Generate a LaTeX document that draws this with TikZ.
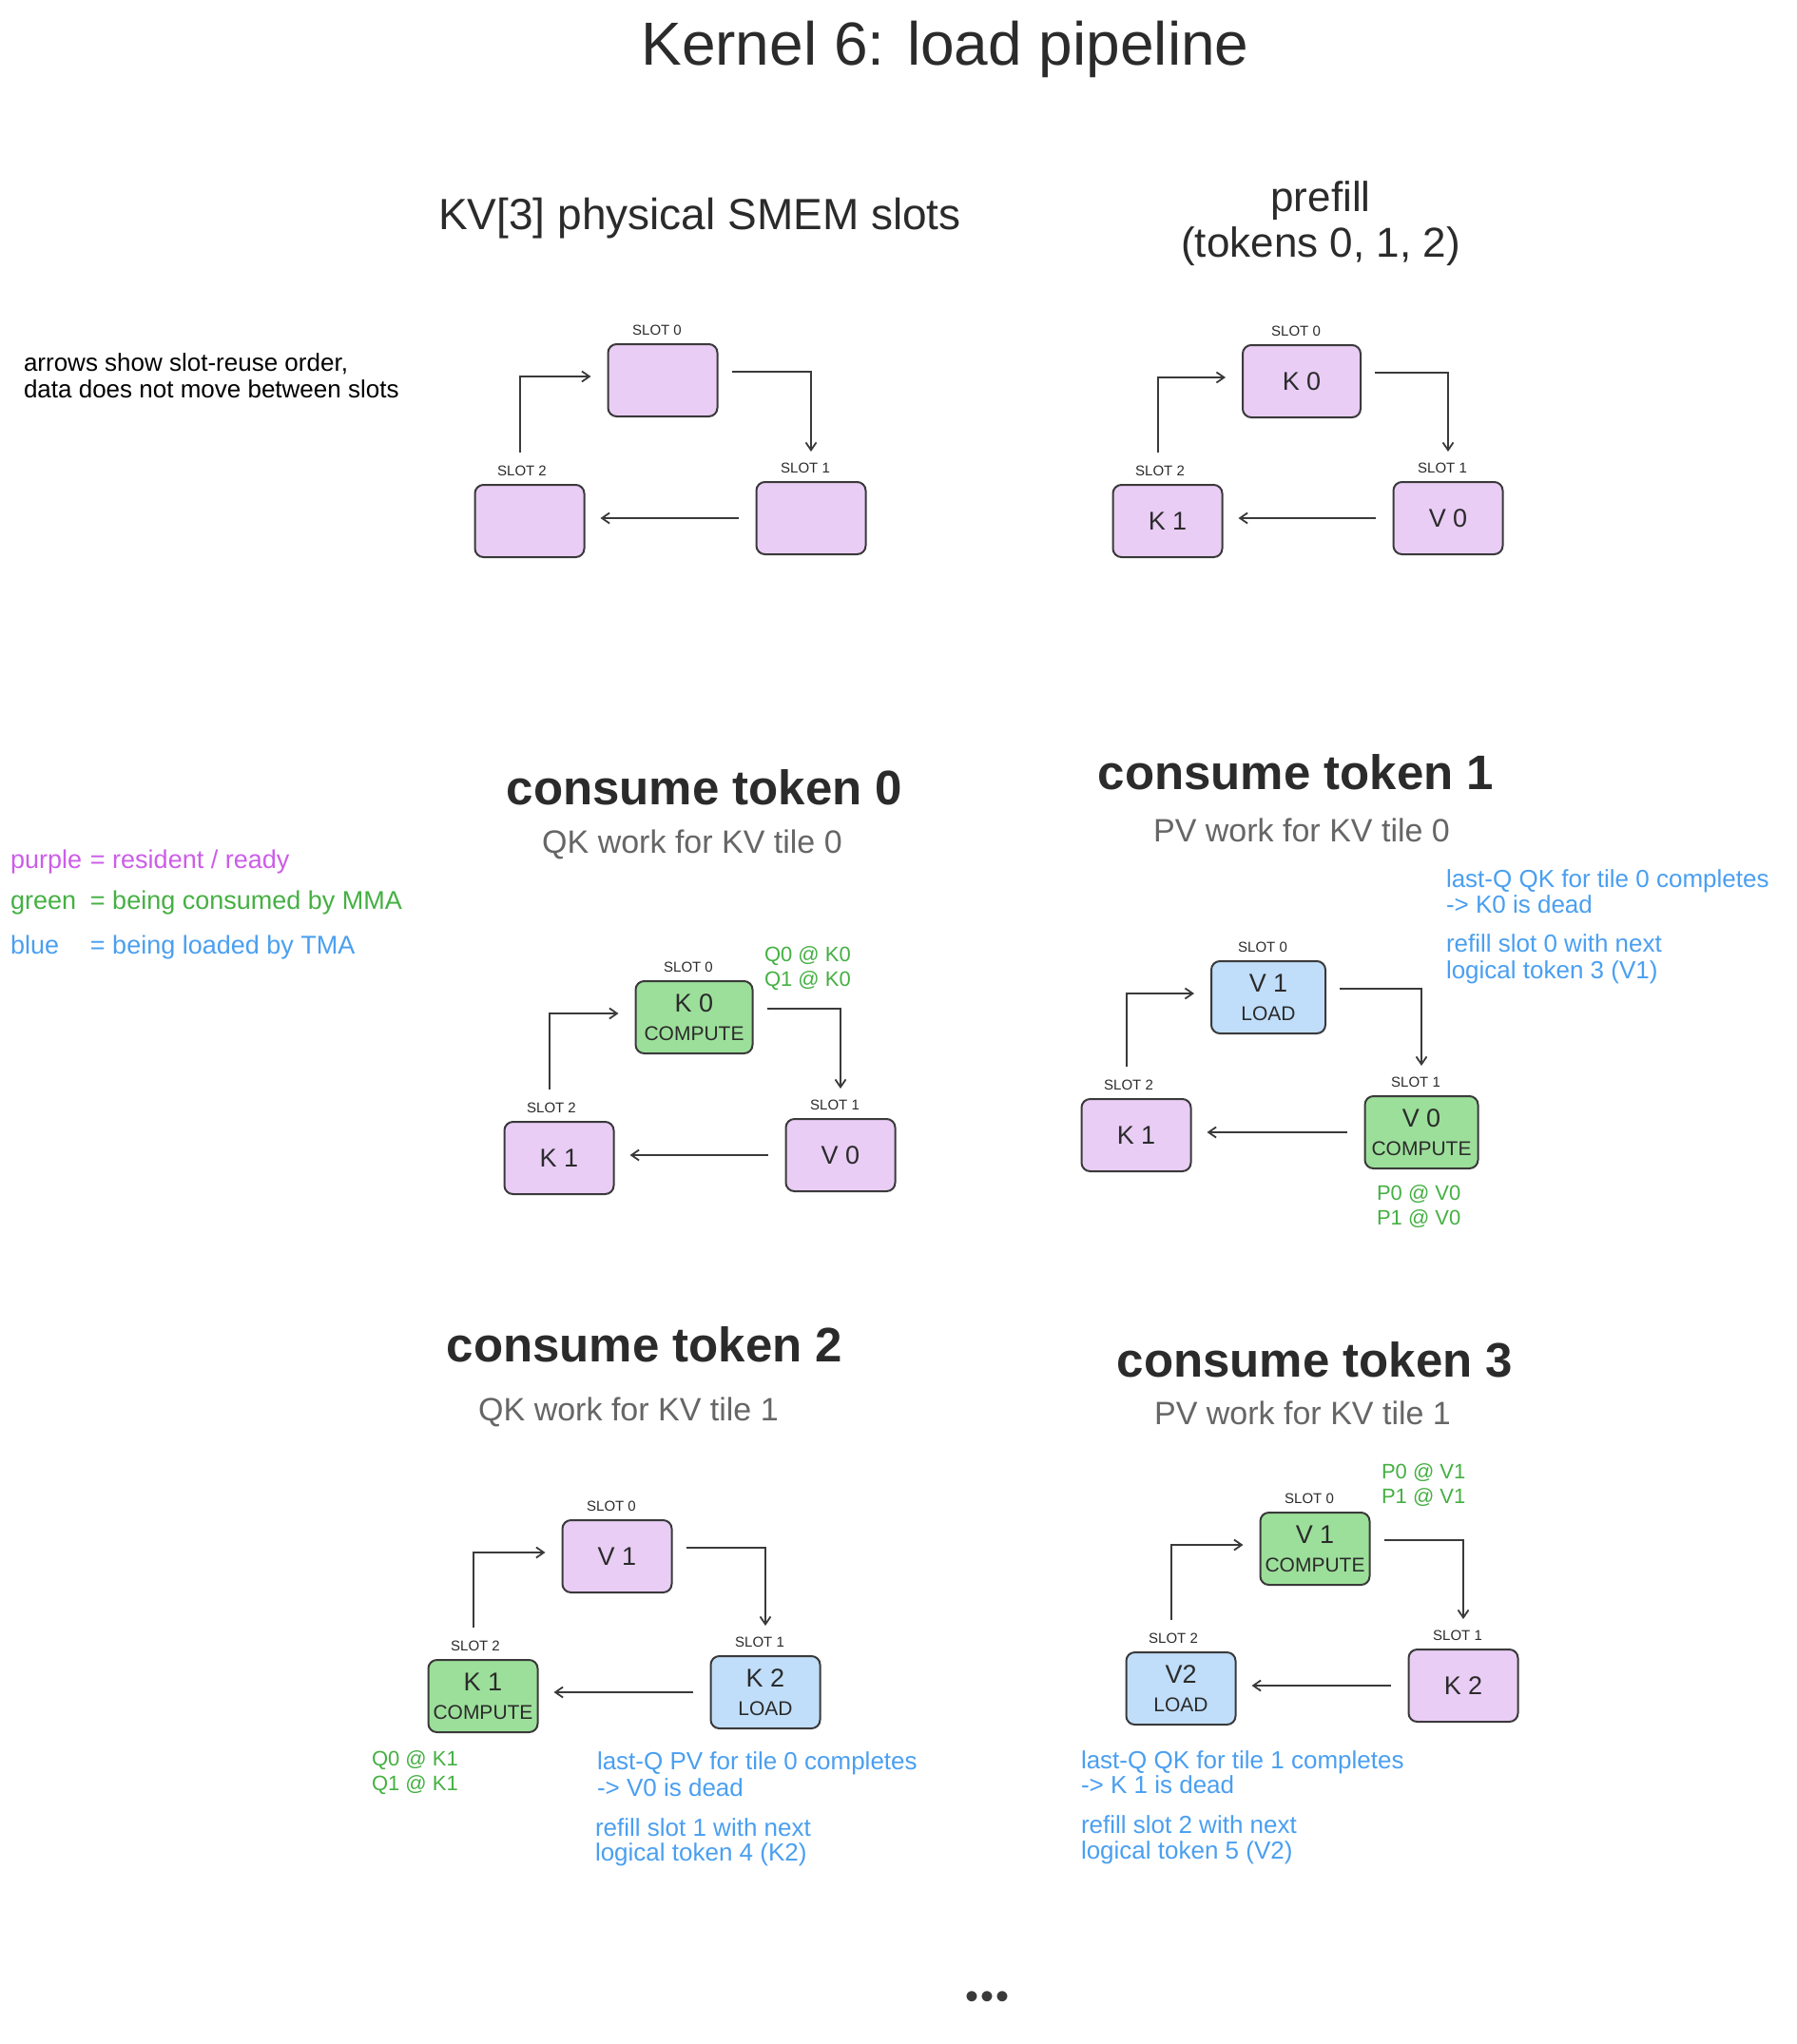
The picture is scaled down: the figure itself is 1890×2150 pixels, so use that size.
\documentclass[tikz,border=0pt]{standalone}
\usepackage{fontspec}
\setmainfont{Liberation Sans}
\usetikzlibrary{arrows.meta,calc}
\definecolor{ink}{HTML}{2B2B2B}
\definecolor{strokec}{HTML}{3A3A3A}
\definecolor{subgray}{HTML}{666666}
\definecolor{pfill}{HTML}{E9CDF5}
\definecolor{gfill}{HTML}{9CDF9A}
\definecolor{bfill}{HTML}{C0DEFA}
\definecolor{ptext}{HTML}{CC5DE8}
\definecolor{gtext}{HTML}{45B043}
\definecolor{btext}{HTML}{4A9FF0}
\newcommand\setfs[2]{\fontsize{#1}{#2}\selectfont}
\newcommand\bxt[1]{{\setfs{27}{30}#1}}
\tikzset{
  every node/.style={inner sep=0pt, outer sep=0pt},
  slotbox/.style={draw=strokec, line width=2pt, rounded corners=9pt,
    minimum width=115pt, minimum height=76pt, align=center, text=ink,
    font=\setfs{21}{30}},
  purplebox/.style={slotbox, fill=pfill},
  greenbox/.style={slotbox, fill=gfill},
  bluebox/.style={slotbox, fill=bfill},
  slotlbl/.style={font=\setfs{15}{15}, text=ink},
  arr/.style={draw=strokec, line width=1.8pt, -{Straight Barb[length=8pt,width=11pt]}},
  heading/.style={font=\bfseries\setfs{51}{51}, text=ink, anchor=base},
  subhead/.style={font=\setfs{34}{34}, text=subgray, anchor=base},
  note/.style={font=\setfs{26}{26}, anchor=base west},
  gnote/.style={font=\setfs{22}{22}, text=gtext, anchor=base west},
  legend/.style={font=\setfs{27}{27}, anchor=base west},
}
\newcommand\slotset[1]{%
  \node[slotlbl] (#1al) at ($(#1a.north)+(-6,-15)$) {SLOT 0};
  \node[slotlbl] (#1bl) at ($(#1b.north)+(-6,-15)$) {SLOT 1};
  \node[slotlbl] (#1cl) at ($(#1c.north)+(-8,-15)$) {SLOT 2};
  \draw[arr] ($(#1a.east)+(15,-9)$) -| ($(#1b.north)+(0,-32)$);
  \draw[arr] ($(#1b.west)+(-19,0)$) -- ($(#1c.east |- #1b.west)+(17,0)$);
  \draw[arr] ($(#1c.north)+(-10,-34)$) |- ($(#1a.west)+(-18,-4)$);
}
\begin{document}
\begin{tikzpicture}[x=1pt, y=-1pt]
\fill[white] (0,0) rectangle (1890,2150);

% title
\node[anchor=base, font=\setfs{64}{64}, text=ink] (title) at (994,68) {Kernel 6: load pipeline};

% section headers top
\node[anchor=base, font=\setfs{46}{46}, text=ink] (physt) at (736,241) {KV[3] physical SMEM slots};
\node[anchor=base, font=\setfs{44}{44}, text=ink] (pref1) at (1389,222) {prefill};
\node[anchor=base, font=\setfs{44}{44}, text=ink] (pref2) at (1389,270) {(tokens 0, 1, 2)};

\node[note, text=black] (an1) at (25,390) {arrows show slot-reuse order,};
\node[note, text=black] (an2) at (25,418) {data does not move between slots};

% diagram A: physical slots
\node[purplebox] (pa) at (697,400) {};
\node[purplebox] (pb) at (853,545) {};
\node[purplebox] (pc) at (557,548) {};
\slotset{p}

% diagram B: prefill
\node[purplebox, minimum width=124pt] (fa) at (1369,401) {\bxt{K 0}};
\node[purplebox] (fb) at (1523,545) {\bxt{V 0}};
\node[purplebox] (fc) at (1228,548) {\bxt{K 1}};
\slotset{f}

% legend
\node[legend, text=ptext] (lp) at (11,913) {\makebox[84pt][l]{purple}= resident / ready};
\node[legend, text=gtext] (lg) at (11,956) {\makebox[84pt][l]{green}= being consumed by MMA};
\node[legend, text=btext] (lb) at (11,1003) {\makebox[84pt][l]{blue}= being loaded by TMA};

% diagram C: consume token 0
\node[heading] (ch) at (741,846) {consume token 0};
\node[subhead] (cs) at (728,897) {QK work for KV tile 0};
\node[greenbox, minimum width=123pt] (ca) at (730,1070) {\bxt{K 0}\\COMPUTE};
\node[purplebox] (cb) at (884,1215) {\bxt{V 0}};
\node[purplebox] (cc) at (588,1218) {\bxt{K 1}};
\slotset{c}
\node[gnote] (cq0) at (804,1011) {Q0 @ K0};
\node[gnote] (cq1) at (804,1037) {Q1 @ K0};

% diagram D: consume token 1
\node[heading] (dh) at (1363,830) {consume token 1};
\node[subhead] (ds) at (1369,885) {PV work for KV tile 0};
\node[bluebox, minimum width=120pt] (da) at (1334,1049) {\bxt{V 1}\\LOAD};
\node[greenbox, minimum width=119pt] (db) at (1495,1191) {\bxt{V 0}\\COMPUTE};
\node[purplebox] (dc) at (1195,1194) {\bxt{K 1}};
\slotset{d}
\node[note, text=btext] (dn1) at (1521,933) {last-Q QK for tile 0 completes};
\node[note, text=btext] (dn2) at (1521,960) {-> K0 is dead};
\node[note, text=btext] (dn3) at (1521,1001) {refill slot 0 with next};
\node[note, text=btext] (dn4) at (1521,1029) {logical token 3 (V1)};
\node[gnote] (dp0) at (1448,1262) {P0 @ V0};
\node[gnote] (dp1) at (1448,1288) {P1 @ V0};

% diagram E: consume token 2
\node[heading] (eh) at (678,1432) {consume token 2};
\node[subhead] (es) at (661,1494) {QK work for KV tile 1};
\node[purplebox] (ea) at (649,1637) {\bxt{V 1}};
\node[bluebox] (eb) at (805,1780) {\bxt{K 2}\\LOAD};
\node[greenbox] (ec) at (508,1784) {\bxt{K 1}\\COMPUTE};
\slotset{e}
\node[gnote] (eq0) at (391,1857) {Q0 @ K1};
\node[gnote] (eq1) at (391,1883) {Q1 @ K1};
\node[note, text=btext] (en1) at (628,1861) {last-Q PV for tile 0 completes};
\node[note, text=btext] (en2) at (628,1889) {-> V0 is dead};
\node[note, text=btext] (en3) at (626,1931) {refill slot 1 with next};
\node[note, text=btext] (en4) at (626,1957) {logical token 4 (K2)};

% diagram F: consume token 3
\node[heading] (gh) at (1383,1448) {consume token 3};
\node[subhead] (gs) at (1370,1498) {PV work for KV tile 1};
\node[greenbox] (ga) at (1383,1629) {\bxt{V 1}\\COMPUTE};
\node[purplebox] (gb) at (1539,1773) {\bxt{K 2}};
\node[bluebox] (gc) at (1242,1776) {\bxt{V2}\\LOAD};
\slotset{g}
\node[gnote] (gp0) at (1453,1555) {P0 @ V1};
\node[gnote] (gp1) at (1453,1581) {P1 @ V1};
\node[note, text=btext] (gn1) at (1137,1860) {last-Q QK for tile 1 completes};
\node[note, text=btext] (gn2) at (1137,1886) {-> K 1 is dead};
\node[note, text=btext] (gn3) at (1137,1928) {refill slot 2 with next};
\node[note, text=btext] (gn4) at (1137,1955) {logical token 5 (V2)};

% ellipsis
\node[text=strokec, font=\setfs{40}{40}] (dots) at (1038,2104) {•\hspace{2pt}•\hspace{2pt}•};
\end{tikzpicture}
\end{document}
